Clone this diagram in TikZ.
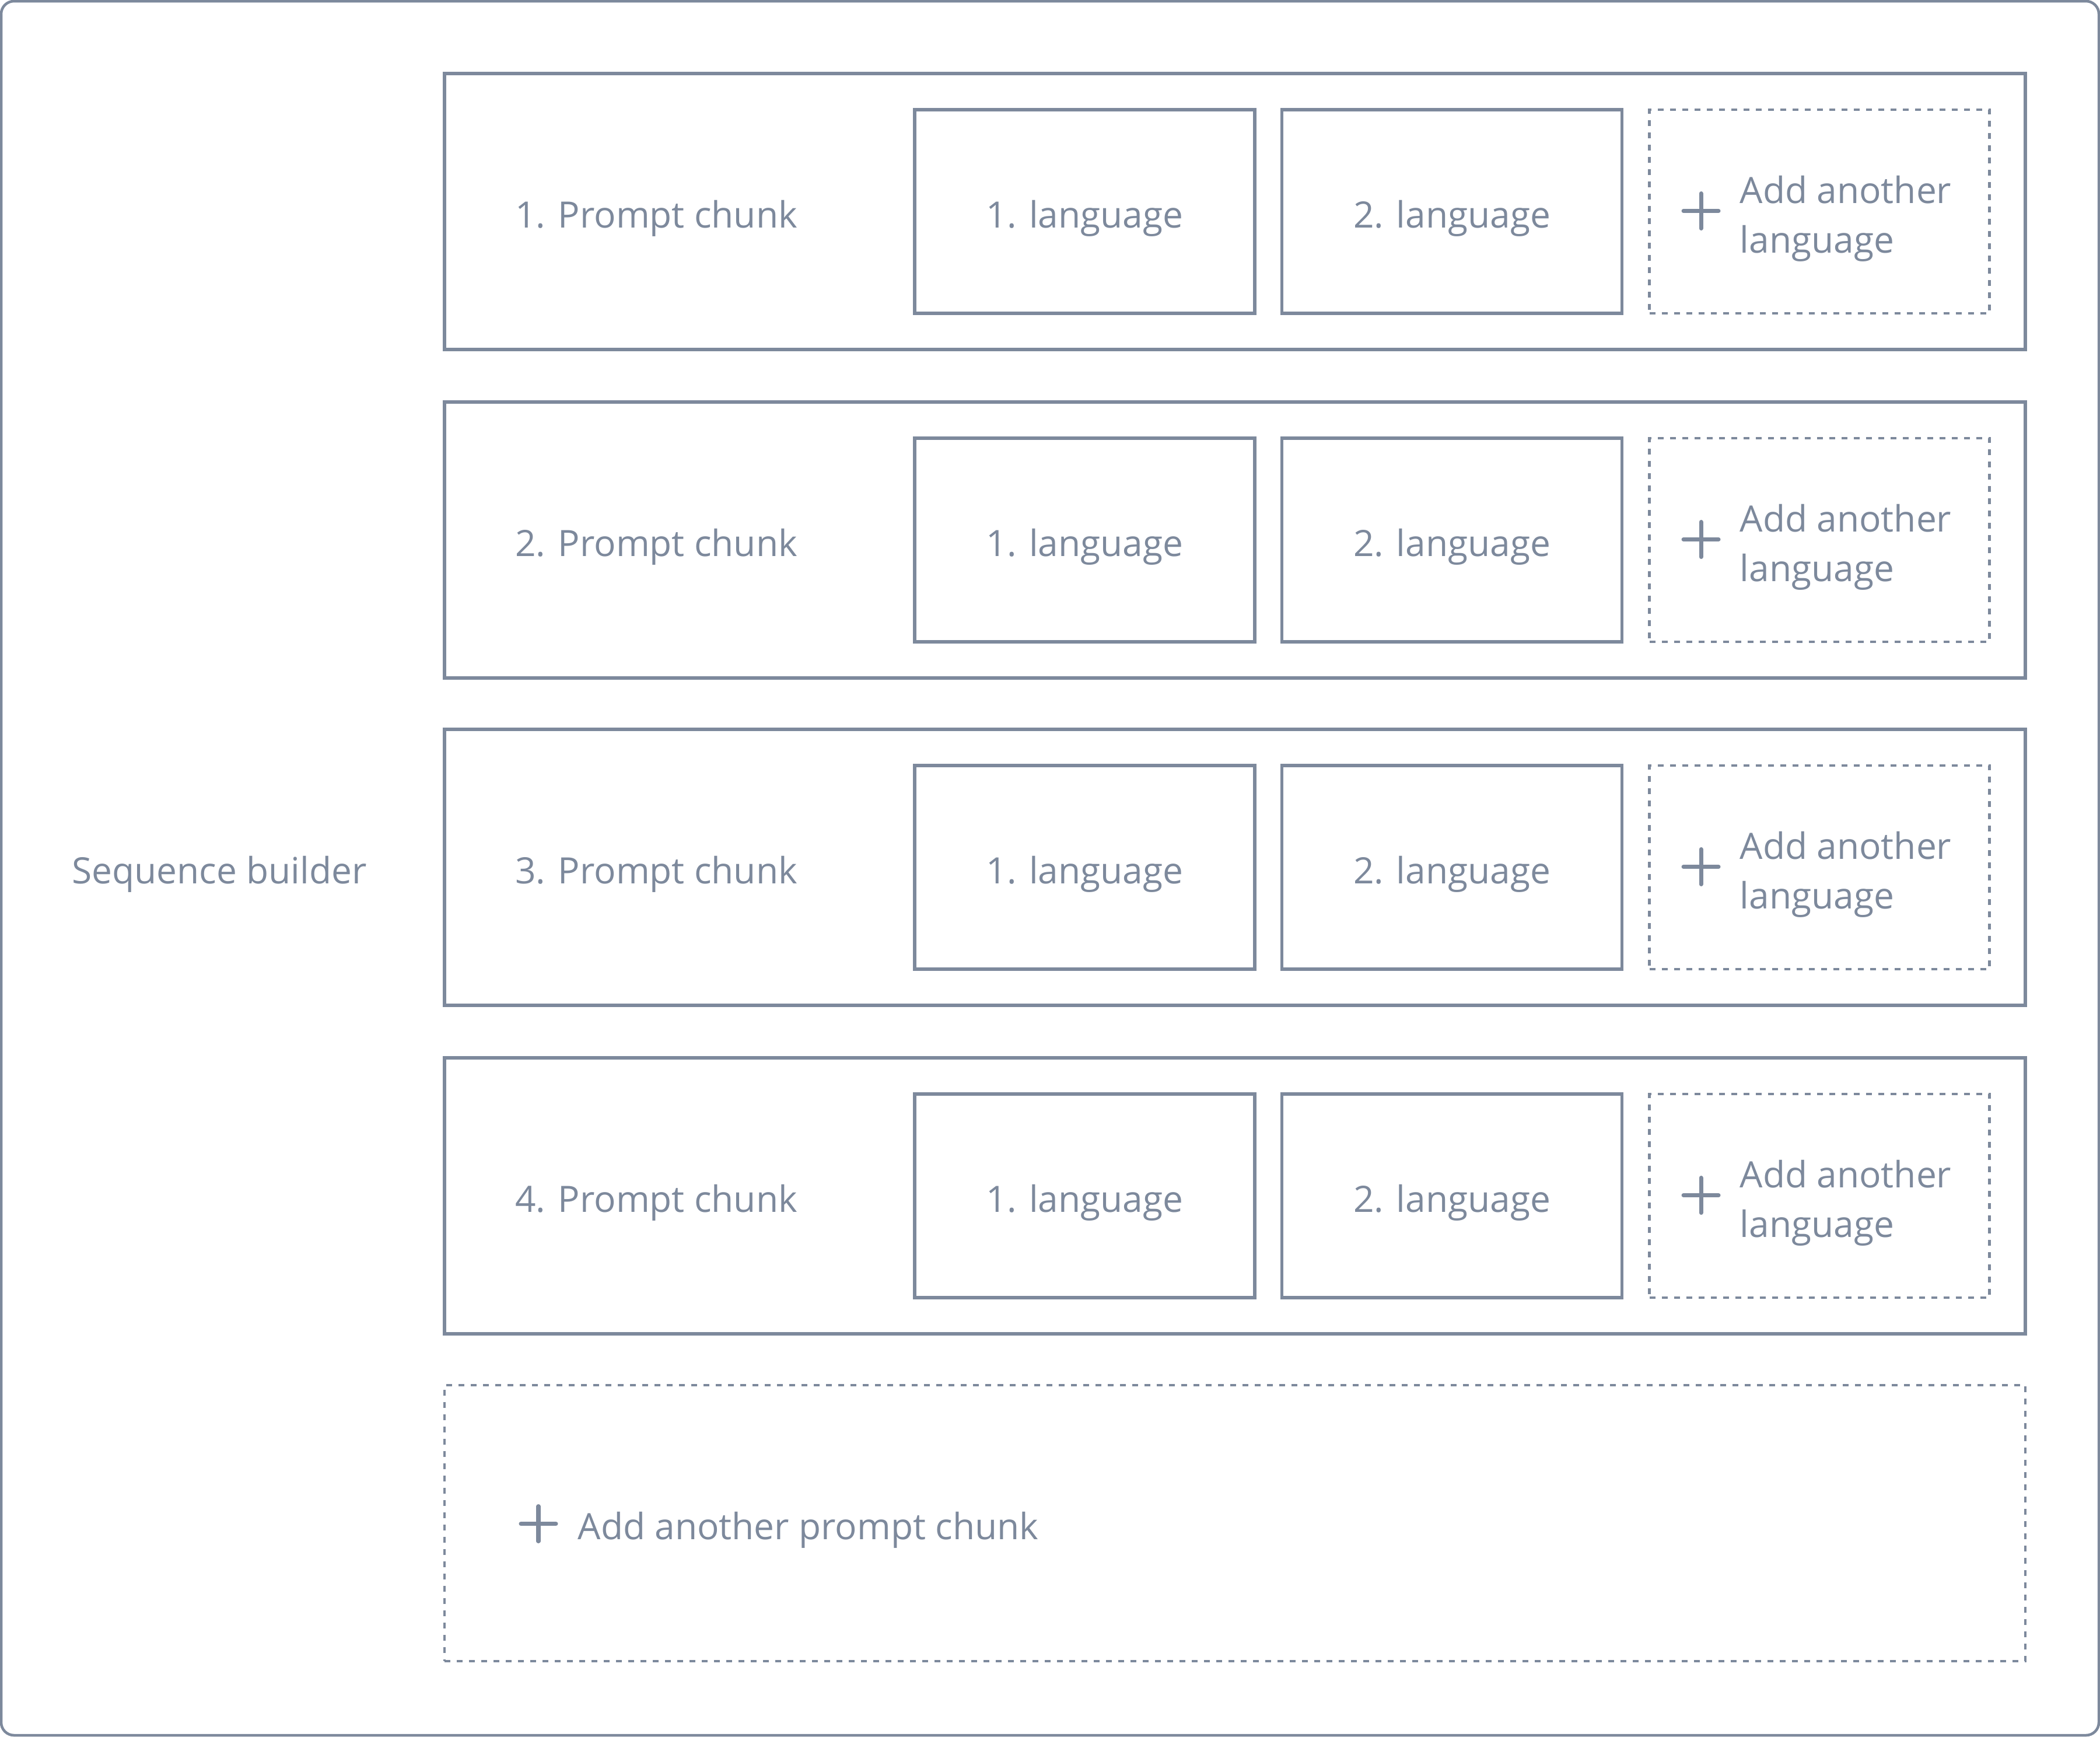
\documentclass[tikz,border=0pt]{standalone}
\usepackage{fontspec}
\setmainfont{Open Sans}
\usetikzlibrary{positioning}
\definecolor{slate}{RGB}{125,137,156}

\begin{document}
\begin{tikzpicture}[every node/.style={font=\fontsize{17.7}{24.2}\selectfont, text=slate}]
\tikzset{
    frame/.style={draw=slate, line width=1.3pt, rounded corners=0.22cm},
    txt/.style={text height=18pt, text depth=2.3pt},
    chunkbox/.style={draw=slate, line width=1.5pt, minimum width=27.1cm, minimum height=4.73cm},
    langbox/.style={txt, draw=slate, line width=1.5pt, minimum width=5.83cm, minimum height=3.49cm},
    addbox/.style={langbox, line width=1.3pt, dash pattern=on 0.1cm off 0.11cm},
    addtext/.style={anchor=west, align=left, inner sep=0pt, yshift=-0.12cm},
    plusline/.style={slate, line width=2pt, line cap=round},
    addmark/.pic={\draw[plusline] (-0.3,0) -- (0.3,0) (0,-0.3) -- (0,0.3);}
}
\useasboundingbox (0,0) rectangle (36,-29.76);
\draw[frame] (0.02,-0.02) rectangle (35.98,-29.74);

\node[txt] (seq) at (3.76,-14.865) {Sequence builder};

% chunk 1
\node[chunkbox] (c1) at (21.17,-3.625) {};
\node[txt] (t1) at ([xshift=-9.92cm]c1.center) {1. Prompt chunk};
\node[langbox] (l11) at (18.595,-3.625) {1. language};
\node[langbox] (l12) at (24.89,-3.625) {2. language};
\node[addbox] (a1) at (31.19,-3.625) {};
\pic at ([xshift=-2.03cm,yshift=0.01cm]a1.center) {addmark};
\node[addtext] (n1) at ([xshift=-1.37cm]a1.center) {Add another\\language};

% chunk 2
\node[chunkbox] (c2) at (21.17,-9.255) {};
\node[txt] (t2) at ([xshift=-9.92cm]c2.center) {2. Prompt chunk};
\node[langbox] (l21) at (18.595,-9.255) {1. language};
\node[langbox] (l22) at (24.89,-9.255) {2. language};
\node[addbox] (a2) at (31.19,-9.255) {};
\pic at ([xshift=-2.03cm,yshift=0.01cm]a2.center) {addmark};
\node[addtext] (n2) at ([xshift=-1.37cm]a2.center) {Add another\\language};

% chunk 3
\node[chunkbox] (c3) at (21.17,-14.865) {};
\node[txt] (t3) at ([xshift=-9.92cm]c3.center) {3. Prompt chunk};
\node[langbox] (l31) at (18.595,-14.865) {1. language};
\node[langbox] (l32) at (24.89,-14.865) {2. language};
\node[addbox] (a3) at (31.19,-14.865) {};
\pic at ([xshift=-2.03cm,yshift=0.01cm]a3.center) {addmark};
\node[addtext] (n3) at ([xshift=-1.37cm]a3.center) {Add another\\language};

% chunk 4
\node[chunkbox] (c4) at (21.17,-20.495) {};
\node[txt] (t4) at ([xshift=-9.92cm]c4.center) {4. Prompt chunk};
\node[langbox] (l41) at (18.595,-20.495) {1. language};
\node[langbox] (l42) at (24.89,-20.495) {2. language};
\node[addbox] (a4) at (31.19,-20.495) {};
\pic at ([xshift=-2.03cm,yshift=0.01cm]a4.center) {addmark};
\node[addtext] (n4) at ([xshift=-1.37cm]a4.center) {Add another\\language};

% new chunk
\node[addbox, minimum width=27.1cm, minimum height=4.73cm] (a5) at (21.17,-26.105) {};
\pic at ([xshift=-11.94cm,yshift=-0.01cm]a5.center) {addmark};
\node[addtext] (n5) at ([xshift=-11.27cm]a5.center) {Add another prompt chunk};

\end{tikzpicture}
\end{document}
